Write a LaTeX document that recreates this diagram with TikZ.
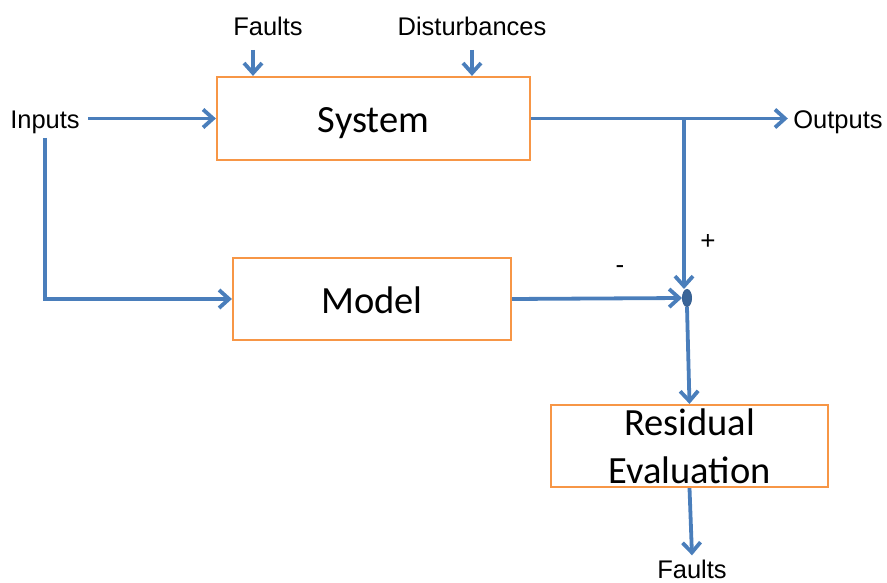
\documentclass[tikz,border=0pt]{standalone}
\usepackage{fontspec}
\setmainfont{Liberation Sans}
\newfontfamily\boxfont{Carlito}
\usetikzlibrary{arrows.meta,shapes.geometric}
\definecolor{flowblue}{RGB}{74,126,187}
\definecolor{sumblue}{RGB}{55,96,146}
\definecolor{boxorange}{RGB}{247,150,70}
\begin{document}
\begin{tikzpicture}[x=1pt,y=-1pt,
  block/.style={draw=boxorange,line width=2.2pt,fill=white,align=center,
    font=\boxfont\fontsize{38.5}{48}\selectfont},
  oneline/.style={text height=29pt,text depth=0pt},
  lbl/.style={font=\fontsize{25.5}{30}\selectfont},
  sign/.style={font=\fontsize{26}{30}\selectfont},
  flow/.style={draw=flowblue,line width=3.8pt,
    -{Straight Barb[length=10pt,width=18pt,line width=3.8pt]}}]
\useasboundingbox (0,0) rectangle (887,583);

% blocks
\node[block,oneline,minimum width=313pt,minimum height=83pt] (sys) at (373.5,118.5) {System};
\node[block,oneline,minimum width=278pt,minimum height=82pt] (model) at (372,299) {Model};
\node[block,minimum width=277pt,minimum height=82pt,inner sep=0pt] (res) at (689.5,446) {Residual\\Evaluation};
\node[ellipse,draw=sumblue,fill=sumblue!85!flowblue,line width=1pt,
      minimum width=9pt,minimum height=17pt,inner sep=0pt] (sum) at (687,298) {};

% signal labels
\node[lbl,anchor=base] (inputs) at (45,129) {Inputs};
\node[lbl,anchor=base] (faultsin) at (268,36) {Faults};
\node[lbl,anchor=base] (dist) at (472,36) {Disturbances};
\node[lbl,anchor=base] (outputs) at (838,129) {Outputs};
\node[lbl,anchor=base,inner sep=4pt] (faultsout) at (692,578) {Faults};
\node[sign] (plus) at (708,242) {+};
\node[sign] (minus) at (620,270) {-};

% free ends of the disturbance inputs
\coordinate (fin) at (253,50);
\coordinate (din) at (472,50);

% connectors
\draw[flow] ([xshift=5pt]sys.west -| inputs.east) -- (sys.west);
\draw[flow] (fin) -- (fin |- sys.north);
\draw[flow] (din) -- (din |- sys.north);
\draw[flow] (inputs.south) |- (model.west);
\draw[flow,shorten >=2pt] (sys.east) -- (sys.east -| outputs.west);
\draw[flow] ([xshift=-3pt]sum.north |- sys.east) -- ([xshift=-3pt]sum.north);
\draw[flow] (model.east) -- (sum.west);
\draw[flow] (sum.south) -- (res.north);
\draw[flow] (res.south) -- (faultsout.north);
\end{tikzpicture}
\end{document}
